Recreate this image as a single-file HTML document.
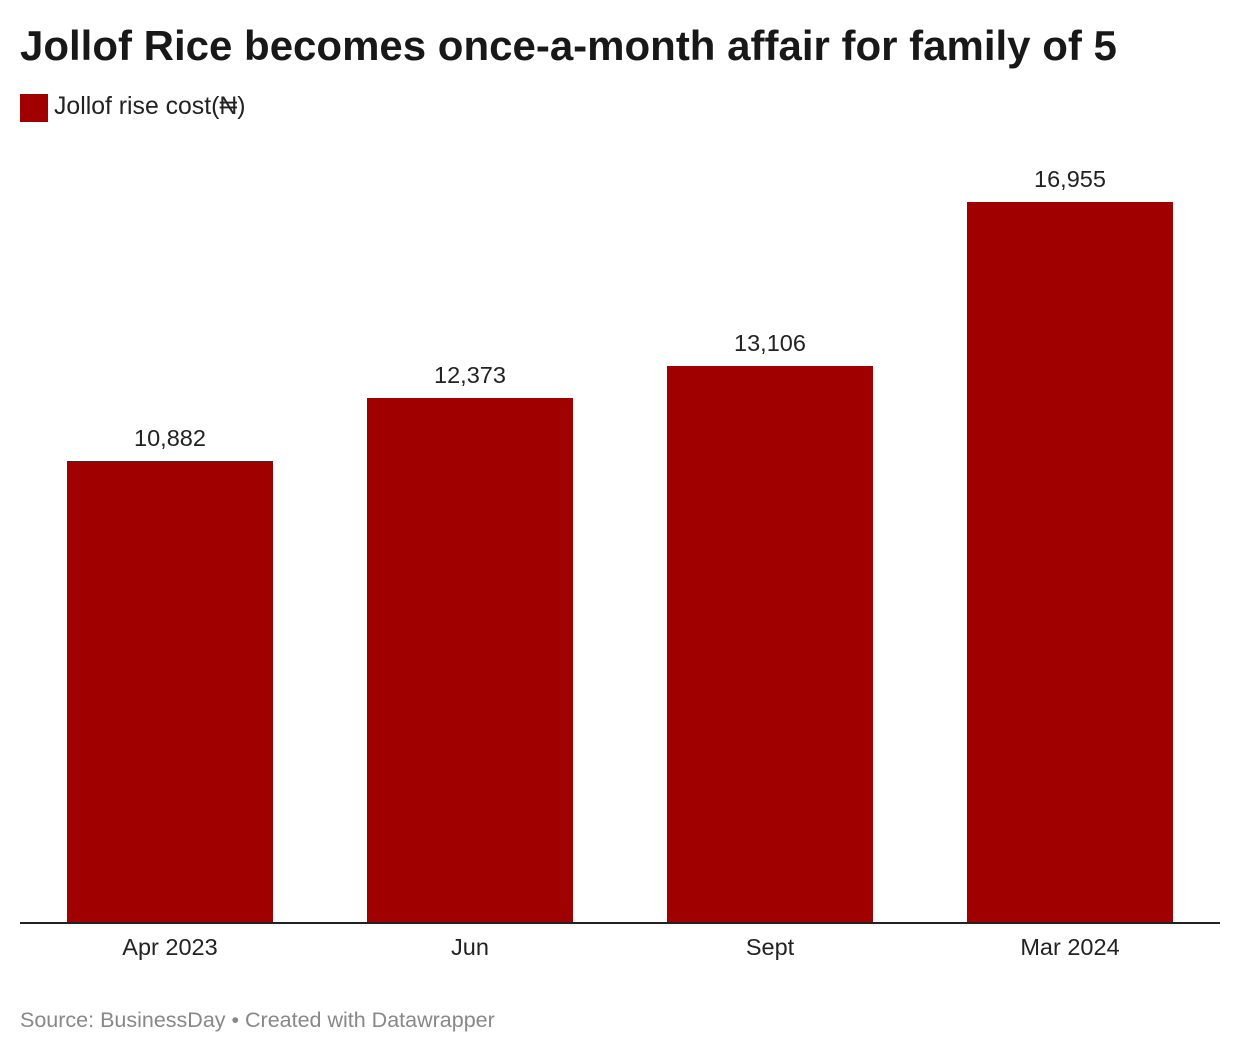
<!DOCTYPE html>
<html><head><meta charset="utf-8"><style>
body{margin:0;width:1240px;height:1056px;background:#fff;font-family:"Liberation Sans",Arial,sans-serif;position:relative;overflow:hidden}
.a{position:absolute}
.t{left:20px;top:22px;font-size:42px;font-weight:bold;color:#181818;white-space:nowrap}
.bar{position:absolute;background:#a00000;width:206px}
.v{position:absolute;width:206px;text-align:center;font-size:23.5px;color:#222}
.x{position:absolute;width:206px;text-align:center;font-size:23.5px;color:#222;top:934px}
</style></head><body>
<div class="a t">Jollof Rice becomes once-a-month affair for family of 5</div>
<div class="a" style="left:20px;top:94px;width:28px;height:28px;background:#a00000"></div>
<div class="a" style="left:54px;top:93px;font-size:24.8px;color:#222;white-space:nowrap">Jollof rise cost(₦)</div>
<div class="bar" style="left:67px;top:461px;height:462px"></div>
<div class="bar" style="left:367px;top:398px;height:525px"></div>
<div class="bar" style="left:667px;top:366px;height:557px"></div>
<div class="bar" style="left:967px;top:202px;height:721px"></div>
<div class="v" style="left:67px;top:425px">10,882</div>
<div class="v" style="left:367px;top:362px">12,373</div>
<div class="v" style="left:667px;top:330px">13,106</div>
<div class="v" style="left:967px;top:166px">16,955</div>
<div class="a" style="left:20px;top:922px;width:1200px;height:2px;background:#222"></div>
<div class="x" style="left:67px">Apr 2023</div>
<div class="x" style="left:367px">Jun</div>
<div class="x" style="left:667px">Sept</div>
<div class="x" style="left:967px">Mar 2024</div>
<div class="a" style="left:20px;top:1008px;font-size:21.5px;color:#888;white-space:nowrap">Source: BusinessDay • Created with Datawrapper</div>
</body></html>
